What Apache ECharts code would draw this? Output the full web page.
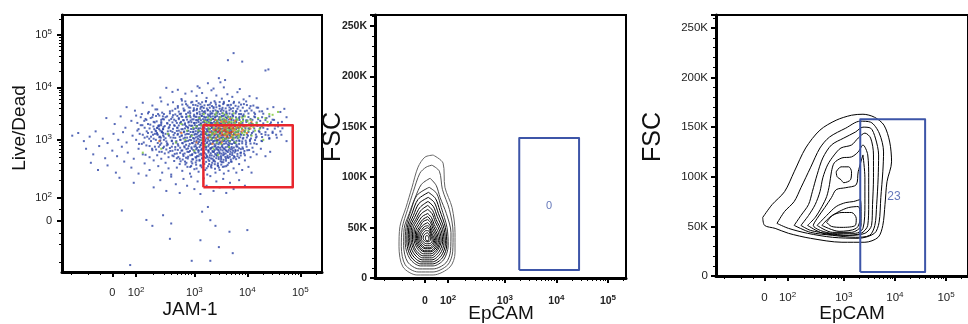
<!DOCTYPE html>
<html>
<head>
<meta charset="utf-8">
<script src="https://cdn.jsdelivr.net/npm/echarts@6/dist/echarts.min.js"></script>
<style>
  html, body { margin: 0; padding: 0; background: #fff; }
  #chart { width: 968px; height: 324px; }
</style>
</head>
<body>
<div id="chart"></div>
<script>
// biex axis ticks (raw units) and their labels
const majorTicks = [0, 100, 1000, 10000, 100000];
const majorLabels = ['{b|0}', '{b|10}{s|2}', '{b|10}{s|3}', '{b|10}{s|4}', '{b|10}{s|5}'];

// panel 1: JAM-1 vs Live/Dead dots, [JAM-1, Live/Dead]
const blueDots = [
  [5500,45000],[4300,33000],[8000,31000],[25000,22000],[22000,21000],[2900,15000],[3100,12500],[3800,13800],[1800,12000],[1150,10500],[2300,9500],
  [330,9800],[420,8200],[520,9000],[700,7600],[900,8400],[1100,6900],[1400,7800],[1700,6300],[2100,8800],[2600,7000],[3300,6100],[4200,7400],[5200,6600],[6500,8100],[8500,5900],[11000,6800],[15000,6200],[600,6000],[260,6400],[1250,9800],[3600,10000],[7200,9300],
  [60,4200],[95,3600],[130,5100],[160,3200],[190,4500],[230,3800],[270,5400],[300,3100],[350,4700],[380,3500],[430,5200],[470,3900],[520,4400],[560,3100],[610,5600],[660,3600],[720,4800],[780,3300],[850,4100],[920,5300],[980,3700],[1050,4600],[1120,3200],[1200,5000],[1300,3900],[1400,4300],[1500,3400],[1650,5500],[1800,3700],[1950,4700],[2100,3200],[2300,4200],[2500,5100],[2700,3500],[3000,4400],[3300,3800],[3600,5300],[4000,3300],[4400,4600],[4900,3900],[5500,5000],[6100,3500],[6800,4300],[7600,3100],[8600,4800],[9800,3600],[11500,4400],[13500,3300],[16000,4100],[19000,3500],[24000,3900],[31000,4200],[42000,3400],[50000,3900],
  [-25,2600],[10,2000],[35,2800],[55,1700],[80,2300],[100,2900],[120,1900],[145,2500],[170,1650],[200,2200],[220,2850],[245,1800],[270,2400],[290,1600],[320,2700],[345,2050],[370,1750],[400,2500],[430,2950],[450,1900],[480,2300],[510,1700],[540,2600],[570,2100],[600,2800],[630,1600],[660,2350],[690,1950],[720,2700],[760,1750],[800,2200],[840,2900],[880,1850],[920,2450],[960,1600],[1000,2100],[1050,2750],[1100,1800],[1150,2350],[1200,1650],[1260,2550],[1320,2000],[1380,2850],[1450,1700],[1520,2250],[1600,2650],[1680,1900],[1760,2400],[1850,1600],[1950,2900],[2050,2100],[2150,1750],[2250,2500],[2400,1900],[2500,2750],[2650,2200],[2800,1650],[2950,2450],[3100,2000],[3300,2850],[3500,1800],[3700,2300],[3900,1700],[4100,2600],[4400,2050],[4700,1600],[5000,2400],[5300,2900],[5700,1900],[6100,2250],[6500,1700],[7000,2600],[7500,2000],[8100,2800],[8800,1800],[9500,2350],[10500,1650],[11500,2500],[12500,2000],[14000,2700],[15500,1850],[17500,2300],[20000,1700],[23000,2600],[27000,2000],[32000,2400],[38000,1800],[45000,2200],[55000,2700],
  [-190,1200],[-150,1350],[-120,950],[-95,1150],[-70,1450],[-40,1050],[-20,880],[5,1300],[25,1000],[45,1400],[60,900],[85,1200],[105,1500],[125,850],[140,1100],[160,1350],[180,950],[195,1250],[215,1500],[235,880],[255,1150],[275,1400],[300,1000],[320,1300],[340,870],[365,1200],[390,1480],[410,950],[435,1100],[460,1350],[490,900],[515,1250],[540,1500],[570,1000],[600,1200],[630,870],[660,1400],[690,1100],[720,950],[750,1300],[790,1500],[830,1000],[870,1200],[910,880],[950,1400],[990,1050],[1040,1300],[1090,920],[1140,1150],[1190,1450],[1250,1000],[1310,1250],[1370,880],[1440,1350],[1510,1080],[1580,940],[1660,1280],[1740,1500],[1820,1020],[1900,1200],[2000,870],[2100,1380],[2200,1100],[2300,950],[2420,1250],[2550,1480],[2680,1000],[2800,1200],[2950,900],[3100,1350],[3250,1100],[3400,1450],[3600,950],[3800,1250],[4000,1050],[4200,1400],[4450,900],[4700,1200],[5000,1500],[5300,1000],[5600,1300],[5900,880],[6300,1150],[6700,1400],[7100,950],[7600,1250],[8200,1050],[8800,1450],[9500,900],[10300,1200],[11200,1000],[12200,1350],[13500,870],[15000,1150],[17000,1400],[19000,950],[22000,1250],[26000,1050],[30000,1350],[36000,1100],[44000,1250],[55000,950],
  [-110,700],[-80,560],[-55,780],[-30,480],[0,650],[20,520],[40,760],[65,600],[90,470],[110,700],[130,560],[150,800],[170,500],[190,660],[210,760],[230,540],[250,620],[270,470],[290,720],[310,580],[335,800],[360,500],[385,640],[410,760],[440,520],[470,680],[500,580],[530,790],[560,470],[600,650],[640,560],[680,740],[720,490],[760,620],[800,780],[850,540],[900,700],[950,460],[1000,610],[1060,770],[1120,520],[1180,660],[1250,560],[1320,800],[1400,480],[1480,700],[1560,590],[1650,760],[1750,500],[1850,640],[1960,540],[2080,720],[2200,470],[2350,620],[2500,780],[2650,530],[2800,680],[3000,580],[3200,460],[3400,740],[3650,560],[3900,660],[4200,500],[4500,800],[4800,620],[5200,700],[5600,520],[6000,640],[6500,760],[7000,490],[7600,600],[8300,700],[9000,540],[10000,660],[11500,500],[13000,620],[15000,560],[18000,700],[22000,520],[27000,620],
  [-90,400],[-60,300],[-20,360],[15,270],[50,420],[80,330],[110,260],[140,390],[170,300],[200,440],[240,350],[280,270],[320,400],[360,320],[400,250],[450,430],[500,330],[560,380],[620,290],[690,420],[760,340],[840,260],[920,390],[1000,310],[1100,440],[1200,280],[1320,360],[1450,420],[1600,300],[1750,250],[1900,380],[2100,330],[2300,430],[2500,270],[2750,360],[3000,300],[3300,410],[3600,260],[4000,350],[4400,290],[4900,420],[5500,320],[6200,270],[7000,380],[8000,300],[9000,440],[10500,340],[12000,270],
  [30,220],[90,180],[150,240],[200,150],[260,200],[330,130],[400,230],[480,170],[560,120],[650,210],[750,160],[880,230],[1000,140],[1150,190],[1300,115],[1500,215],[1700,160],[2000,235],[2300,130],[2600,190],[3000,150],[3500,210],[4000,120],[4700,180],[5500,140],[7000,200],[9000,160],
  [150,5],[190,-20],[400,-10],[290,25],[1400,40],[2000,4],[2500,-20],[4600,-45],[10000,-38],[380,-75],[1300,-81],[2900,-110],[5300,-140],[900,-190],[2000,-190],[75,-225],[40,45],[1800,60],
  [105,2100],[115,1300],[125,3100],[135,900],[140,1700],[150,2400],[155,1150],[165,3400],[170,780],[175,1950],[185,1400],[190,2700],[200,1050],[205,1600],[215,3800],[220,680],[225,2250],[235,1250],[240,1850],[250,2900],[255,950],[260,1500],[270,2050],[275,620],[280,3300],[290,1350],[295,1750],[100,1000],[110,1600],[120,2700],[130,1250],[145,550],[160,2000],[180,1150],[195,3000],[210,1300],[230,1700],[245,760],[265,1100],[285,2500],[112,850],[128,1900],[138,2300],[152,1450],[168,1050],[178,2600],[188,700],[198,1800],[208,2150],[218,1000],[228,1350],[238,3100],[248,1600],[258,820],[268,1900],[278,1450],[288,2800],[298,1150]
];
// denser body of the blue population
const coreDots = [
  [700,5400],[880,5150],[1100,5500],[1400,5200],[1650,5350],[2050,5100],[2400,5450],[3000,5250],[3600,5000],[4500,5500],[5600,5300],[7000,5150],[9500,5400],
  [620,4700],[760,4500],[950,4650],[1150,4450],[1300,4750],[1550,4550],[1800,4600],[2150,4400],[2550,4700],[2950,4500],[3500,4800],[4200,4550],[4900,4650],[6000,4450],[7600,4700],[9800,4600],[13000,4500],
  [520,4100],[650,3950],[800,4150],[980,4000],[1120,3900],[1320,4200],[1500,4050],[1720,3950],[1950,4100],[2300,4000],[2600,4180],[3000,3920],[3400,4080],[3900,3980],[4600,4150],[5400,4020],[6500,3900],[8200,4100],[11000,4000],[15000,4120],
  [420,3600],[540,3450],[680,3650],[830,3500],[960,3550],[1100,3680],[1250,3420],[1400,3580],[1580,3500],[1780,3620],[2000,3470],[2250,3560],[2500,3650],[2800,3430],[3150,3540],[3550,3600],[4000,3480],[4600,3660],[5300,3520],[6200,3450],[7400,3590],[9000,3500],[12000,3620],[17000,3480],
  [380,3200],[470,3050],[590,3150],[720,3100],[850,3230],[990,3020],[1130,3180],[1270,3080],[1420,3140],[1600,3210],[1800,3040],[2000,3120],[2200,3190],[2450,3060],[2700,3160],[3000,3100],[3350,3220],[3700,3030],[4100,3130],[4600,3170],[5200,3070],[6000,3200],[7000,3110],[8500,3050],[10500,3180],[14000,3090],[20000,3150],
  [340,2800],[420,2700],[510,2850],[620,2730],[740,2780],[860,2690],[980,2820],[1100,2750],[1230,2710],[1370,2840],[1520,2760],[1680,2700],[1850,2810],[2030,2740],[2230,2790],[2450,2680],[2680,2830],[2950,2720],[3250,2770],[3550,2850],[3900,2700],[4300,2790],[4800,2740],[5400,2810],[6100,2690],[7100,2760],[8400,2830],[10500,2720],[13500,2780],[19000,2700],[26000,2800],
  [300,2450],[370,2350],[450,2420],[540,2480],[640,2370],[750,2430],[860,2340],[970,2460],[1080,2390],[1200,2440],[1330,2360],[1460,2470],[1600,2400],[1750,2330],[1900,2450],[2070,2380],[2250,2490],[2450,2410],[2650,2350],[2880,2440],[3120,2370],[3400,2460],[3700,2400],[4050,2340],[4450,2430],[4900,2480],[5500,2360],[6200,2420],[7100,2390],[8300,2450],[10000,2340],[12500,2410],[16000,2470],[22000,2380],[30000,2420],
  [270,2180],[340,2080],[420,2150],[500,2100],[590,2200],[690,2060],[790,2140],[890,2170],[990,2090],[1090,2120],[1200,2190],[1320,2070],[1440,2160],[1570,2110],[1710,2050],[1860,2180],[2010,2130],[2180,2090],[2360,2200],[2560,2080],[2770,2150],[3000,2120],[3250,2060],[3520,2170],[3820,2100],[4150,2140],[4550,2190],[5000,2080],[5550,2130],[6200,2160],[7000,2070],[8100,2110],[9600,2180],[11800,2100],[15000,2140],[20000,2060],[28000,2150],[38000,2120],
  [250,1900],[310,1830],[380,1920],[460,1850],[540,1880],[630,1940],[720,1820],[820,1890],[920,1860],[1020,1910],[1120,1840],[1230,1930],[1350,1870],[1470,1810],[1600,1900],[1740,1860],[1880,1920],[2030,1840],[2190,1890],[2370,1950],[2560,1830],[2760,1880],[2980,1910],[3220,1850],[3480,1870],[3760,1930],[4070,1820],[4420,1900],[4820,1860],[5300,1890],[5850,1840],[6500,1920],[7300,1870],[8400,1830],[9800,1900],[11800,1860],[14500,1910],[18500,1850],[25000,1880],[34000,1870],
  [230,1680],[290,1600],[360,1660],[430,1620],[510,1700],[600,1590],[690,1650],[780,1690],[880,1610],[980,1640],[1080,1670],[1190,1580],[1300,1660],[1420,1630],[1550,1690],[1680,1600],[1820,1650],[1970,1620],[2130,1680],[2300,1590],[2480,1660],[2680,1640],[2890,1700],[3120,1610],[3370,1630],[3640,1670],[3930,1590],[4260,1650],[4630,1690],[5050,1620],[5550,1640],[6150,1600],[6900,1680],[7900,1630],[9200,1660],[11000,1610],[13500,1650],[17500,1690],[24000,1600],[33000,1640],[46000,1660],
  [220,1460],[280,1400],[350,1450],[420,1420],[500,1480],[580,1390],[670,1440],[760,1470],[860,1410],[960,1430],[1060,1460],[1170,1380],[1280,1450],[1400,1420],[1520,1490],[1650,1400],[1790,1440],[1940,1410],[2100,1470],[2270,1390],[2450,1450],[2650,1430],[2860,1480],[3090,1400],[3330,1420],[3600,1460],[3900,1390],[4230,1440],[4600,1470],[5020,1410],[5500,1430],[6100,1400],[6800,1460],[7700,1420],[8900,1450],[10500,1410],[13000,1440],[16500,1470],[22000,1400],[30000,1430],[42000,1450],
  [230,1280],[290,1220],[360,1270],[440,1240],[520,1300],[610,1210],[700,1260],[800,1290],[900,1230],[1000,1250],[1110,1280],[1220,1200],[1340,1270],[1460,1240],[1590,1300],[1730,1220],[1880,1260],[2040,1230],[2210,1290],[2390,1210],[2590,1270],[2800,1250],[3030,1300],[3280,1220],[3550,1240],[3840,1280],[4160,1210],[4520,1260],[4930,1290],[5400,1230],[5950,1250],[6600,1220],[7400,1280],[8500,1240],[9900,1270],[11800,1230],[14500,1260],[18500,1290],[25000,1220],[35000,1250],
  [250,1120],[320,1070],[390,1110],[470,1090],[560,1140],[650,1060],[750,1100],[850,1130],[950,1080],[1060,1110],[1170,1050],[1290,1120],[1410,1090],[1540,1140],[1680,1070],[1830,1100],[1990,1130],[2160,1060],[2340,1110],[2540,1090],[2750,1140],[2980,1070],[3230,1100],[3500,1120],[3790,1060],[4110,1110],[4470,1080],[4880,1130],[5350,1090],[5900,1100],[6550,1070],[7350,1120],[8400,1090],[9800,1110],[11700,1060],[14500,1100],[19000,1130],[26000,1080],
  [260,980],[330,940],[410,970],[490,950],[580,1000],[680,930],[780,960],[880,990],[990,940],[1100,970],[1220,920],[1340,980],[1470,950],[1610,1000],[1760,930],[1920,960],[2090,990],[2270,940],[2460,970],[2670,950],[2890,990],[3130,930],[3390,960],[3670,980],[3980,940],[4320,970],[4710,950],[5150,1000],[5650,930],[6250,960],[7000,980],[8000,940],[9300,970],[11200,950],[14000,990],[18500,960],
  [270,870],[350,830],[430,860],[520,840],[620,880],[720,820],[830,850],[940,875],[1050,830],[1170,860],[1300,815],[1430,870],[1570,845],[1720,880],[1880,825],[2050,850],[2230,875],[2430,835],[2640,860],[2870,840],[3110,880],[3370,820],[3650,855],[3960,870],[4300,830],[4690,860],[5130,845],[5640,880],[6250,825],[7000,850],[8000,870],[9400,835],[11500,860],[15000,845],
  [300,760],[380,720],[470,750],[570,730],[670,770],[780,710],[890,740],[1000,765],[1120,725],[1250,750],[1380,705],[1520,760],[1670,735],[1830,770],[2000,715],[2180,745],[2380,765],[2590,725],[2810,750],[3050,730],[3310,770],[3590,710],[3900,745],[4240,760],[4620,720],[5060,750],[5570,735],[6200,770],[7000,715],[8100,740],[9700,760],[12500,730],
  [330,680],[420,645],[520,670],[620,655],[730,690],[840,640],[960,665],[1080,685],[1210,650],[1350,670],[1500,635],[1660,680],[1830,660],[2010,690],[2200,640],[2410,665],[2630,685],[2870,650],[3130,675],[3410,655],[3720,690],[4060,640],[4440,665],[4870,680],[5370,645],[5950,670],[6650,655],[7550,690],[8800,640],[10800,665],
  [360,605],[460,570],[570,595],[680,580],[800,615],[920,565],[1050,590],[1190,610],[1340,575],[1500,595],[1670,560],[1850,605],[2040,585],[2250,615],[2470,570],[2710,590],[2970,610],[3250,575],[3560,600],[3900,580],[4280,615],[4700,565],[5200,590],[5780,605],[6500,570],[7400,595],[8700,580],
  [420,535],[530,505],[650,525],[780,510],[910,545],[1050,500],[1200,520],[1360,540],[1530,505],[1720,525],[1920,495],[2130,535],[2360,515],[2610,545],[2880,500],[3170,520],[3490,540],[3840,505],[4230,530],[4670,510],[5180,545],[5780,500],[6500,520],[7500,535],
  [500,480],[630,455],[770,475],[920,460],[1080,490],[1250,450],[1430,470],[1630,485],[1840,455],[2070,475],[2320,445],[2590,480],[2880,465],[3200,490],[3550,450],[3940,470],[4380,485],[4880,455],[5450,478],[6150,462],
  [580,425],[730,400],[890,420],[1060,405],[1250,435],[1450,395],[1670,415],[1910,430],[2170,400],[2460,420],[2780,390],[3130,425],[3520,410],[3960,435],[4460,398],[5050,418],
  [700,375],[880,352],[1080,370],[1300,358],[1540,382],[1810,348],[2100,366],[2430,378],[2800,354],[3220,372],[3700,345],[4250,368],
  [850,338],[1100,318],[1380,334],[1700,322],[2050,345],[2450,315],[2900,330],[3450,340]
];
const greenDots = [
  [600,2000],[750,1500],[900,1200],[1100,1800],[1250,2600],[1400,1000],[1550,1400],[1700,2200],[1850,1700],[2000,1150],[2100,2500],[2200,1350],[2350,1900],[2500,1050],[2600,1600],[2700,2300],[2850,1250],[3000,1800],[3100,2700],[3250,1450],[3400,1050],[3500,2100],[3650,1650],[3800,1300],[3950,2400],[4100,1900],[4300,1100],[4450,1550],[4600,2200],[4800,1350],[5000,1800],[5200,2600],[5400,1200],[5600,1600],[5900,2000],[6200,1450],[6500,2400],[6800,1100],[7200,1750],[7600,2200],[8000,1350],[8500,1900],[9200,1550],[10000,2300],[11000,1700],[12500,2000],[14000,1500],[16000,2600],[19000,1800],[24000,2200],[30000,3000],[38000,3400],[26000,3100],[1600,800],[2300,700],[3200,850],[4500,750],[6000,900],[1000,650],[2800,550],[480,900],[350,1300],[270,700],[130,600],[800,2800],[1500,3100],[2600,3300],[4000,3000],[5500,3200],[9000,2800],[12000,1200],[20000,1000],[700,1000],[2900,1550],[3700,2050],[4200,1250],[4900,1650],[3300,1900],[2400,1450],[5800,1350],[1900,2100],[6600,1850],[8800,1250],[10800,2050],
  [1700,1300],[1900,1550],[2150,1250],[2300,1700],[2550,1380],[2750,1950],[2950,1150],[3150,1600],[3350,2300],[3550,1280],[3750,1850],[3900,1050],[4150,1500],[4350,2050],[4550,1320],[4750,1900],[5100,1150],[5300,1450],[5700,2150],[6100,1700],[6400,1250],[6900,1550],[7400,2000],[7900,1650],[8300,2300],[9000,1400],[9600,1800],[10500,1500],[11500,2400],[13000,1750],[2000,2350],[2450,2050],[3050,2450],[3600,2550],[4400,2700],[1350,1900],[1550,2300],[1200,1500],[950,1700],[2650,900],[3450,1000],[4650,950],[5500,1050],[7000,1200],[2100,1050],[3850,1450],[5300,1950],[6300,2550],[8000,2650],[1800,2650],[2500,3000],[3500,3200],[15000,2100],[17000,1600],[22000,2600],[1450,1200],[2800,2050],[4100,1700],[6700,1450],[5000,2200]
];
const orangeDots = [
  [1400,1600],[1800,1100],[2100,1900],[2400,1300],[2700,1700],[3000,1000],[3200,2200],[3500,1500],[3800,1200],[4000,1800],[4300,1400],[4600,2000],[4900,1100],[5200,1600],[5600,1900],[6000,1250],[6500,1700],[7000,2100],[7800,1450],[8800,1800],[3300,900],[2500,2400],[4700,2500],[5900,2300],[1600,2000],[2200,850],[9800,1350],[11500,1650],[12000,2200],[3900,1650],[250,950],[600,1350],[1100,900],
  [2300,1550],[2900,1850],[3600,1750],[4100,1300],[4400,1900],[5400,1450],[6300,1900],[3100,1200],[2600,1100],[4800,1750],[5800,1550],[7300,1750],[3700,2300],[2000,1400],[8300,1550],[6800,1300],[4000,2200],[3300,1350],[5100,1250],[2700,2100]
];
const redDots = [[2800,1400],[3400,1250],[3700,1550],[4200,1150],[4500,1700],[3100,1650],[5000,1400],[2500,1550],[3900,1450],[4600,1350],[3000,1500],[5400,1700],[3500,1900]];

// gates: [min, max]
const jamGate = [1480, 72000];
const ldGate = [150, 1900];
const epGate2 = [1900, 27500];
const fscGate2 = [8, 139];
const epGate3 = [2100, 39000];
const fscGate3 = [4, 158];
const gateCounts = ['0', '23'];
const gateLabelAt = [[7200, 71], [9600, 80]];

// panel 2 contours, [EpCAM, FSC (K)], outer to inner
const p2Contours = [
  [[35,122],[78,114],[86,90],[117,70],[132,45],[132,25],[108,11],[35,3],[-35,3],[-95,11],[-112,31],[-108,51],[-82,70],[-56,90],[-30,110],[0,120]],
  [[30,112],[62,106],[75,88],[105,68],[122,45],[120,26],[98,13],[35,6],[-30,6],[-85,13],[-102,31],[-98,50],[-75,68],[-50,86],[-22,104],[5,110]],
  [[22,99],[48,92],[65,80],[92,64],[112,45],[110,27],[90,15],[35,9],[-25,9],[-75,16],[-92,32],[-90,49],[-68,64],[-42,80],[-15,93]],
  [[18,90],[50,84],[70,70],[95,50],[100,32],[80,18],[35,12],[-20,12],[-65,19],[-85,34],[-82,50],[-62,66],[-35,82]],
  [[15,85],[45,79],[64,67],[88,50],[94,33],[75,20],[33,14],[-18,14],[-60,21],[-78,35],[-76,50],[-56,64],[-30,78]],
  [[14,80],[40,75],[58,64],[82,49],[88,34],[70,22],[32,16],[-15,16],[-55,23],[-72,36],[-70,50],[-50,62],[-26,74]],
  [[13,76],[36,71],[53,61],[76,48],[82,35],[65,24],[30,18],[-12,18],[-50,25],[-66,37],[-64,50],[-45,60],[-22,70]],
  [[12,72],[33,67],[48,58],[70,47],[76,36],[60,26],[28,20],[-10,20],[-45,27],[-60,38],[-58,50],[-40,58],[-18,67]],
  [[12,68],[30,64],[44,56],[64,46],[70,37],[56,28],[27,22],[-8,22],[-40,28],[-54,38],[-52,49],[-35,57],[-15,64]],
  [[12,64],[28,60],[40,53],[58,45],[64,37],[52,29],[26,24],[-6,24],[-35,30],[-48,39],[-46,48],[-30,55],[-12,61]],
  [[12,61],[26,57],[37,51],[52,44],[58,37],[48,30],[25,26],[-4,26],[-30,31],[-42,39],[-40,47],[-26,53],[-10,58]],
  [[12,58],[24,55],[34,49],[47,43],[52,37],[44,31],[24,27],[-2,27],[-26,32],[-37,39],[-35,46],[-22,51],[-8,56]],
  [[12,55],[22,52],[31,47],[42,42],[47,37],[40,32],[22,29],[0,29],[-22,33],[-32,39],[-30,45],[-18,50],[-5,53]],
  [[12,52],[21,50],[28,45],[37,41],[42,37],[36,33],[21,30],[2,30],[-18,34],[-27,39],[-25,44],[-14,48],[-2,51]],
  [[12,50],[20,48],[26,44],[33,40],[37,37],[32,34],[20,32],[4,32],[-13,35],[-22,39],[-20,43],[-10,47],[2,49]],
  [[12,47],[19,46],[24,42],[29,39],[31,37],[27,35],[18,34],[6,34],[-8,36],[-16,39],[-14,42],[-6,45],[4,47]],
  [[11,45],[17,43],[21,41],[24,39],[22,37],[16,36],[7,36],[-2,37],[-8,39],[-6,42],[2,44]],
  [[10,42],[15,41],[17,39],[14,37],[8,37],[3,38],[2,40],[5,42]]
];

// panel 3 contours, [EpCAM, FSC (K)]
const p3Contours = [
  [[-8,59],[33,72],[87,85],[131,105],[210,129],[377,147],[733,157],[1415,162],[2372,163],[3980,160],[6110,152],[7920,135],[8600,115],[7000,95],[6400,72],[5800,51],[4700,39],[2588,34],[927,34],[255,38],[104,43],[46,48],[0,51]],
  [[54,53],[87,65],[131,75],[173,89],[255,109],[377,129],[557,140],[1094,149],[2085,156],[3350,155],[4930,144],[6000,125],[5800,105],[5300,79],[4900,54],[3980,43],[1914,38],[627,39],[227,43],[104,48]],
  [[131,51],[173,61],[236,72],[276,85],[335,102],[424,119],[603,132],[1000,139],[1682,145],[2372,150],[3350,149],[4150,139],[4800,122],[4700,99],[4400,72],[4050,51],[3207,41],[1682,39],[627,41],[255,44]],
  [[173,51],[236,61],[310,72],[377,85],[424,99],[516,112],[677,122],[891,129],[1415,132],[1914,139],[2588,144],[3350,139],[3810,122],[3810,99],[3650,72],[3493,51],[2588,43],[1245,41],[496,43],[255,46]],
  [[227,51],[310,59],[408,70],[496,80],[557,92],[603,105],[677,114],[927,119],[1415,120],[1914,125],[2372,132],[2942,122],[3070,99],[3070,72],[2942,51],[2178,43],[1094,41],[424,43]],
  [[733,105],[891,110],[1245,110],[1415,105],[1356,97],[1000,94],[891,97],[762,100]],
  [[2372,122],[1914,105],[1754,92],[1094,89],[733,87],[603,79],[459,69],[335,58],[287,51],[627,43],[1682,43],[2372,48],[2588,72],[2588,99]],
  [[335,51],[496,61],[733,70],[1094,74],[1540,75],[2085,77],[2178,65],[2178,51],[1415,44],[627,44]],
  [[408,51],[557,59],[824,65],[1245,69],[1914,70],[2085,58],[1754,48],[824,45]],
  [[496,54],[627,61],[927,64],[1415,64],[1754,58],[1682,51],[927,49],[603,50]]
];

const FONT = '"Liberation Sans", Arial, sans-serif';

// biexponential-style display transform used by the fluorescence axes
function biex(v) {
  const a = Math.abs(v), s = v < 0 ? -1 : 1;
  if (a <= 100) return 0.45 * v / 100;
  const e = Math.log10(a);
  const t = e <= 3 ? 0.45 + (e - 2) * 1.1 : 1.55 + (e - 3);
  return s * t;
}

const minorRaw = [-300, -200, -100, -50, 50];
[100, 1000, 10000, 100000].forEach(function (d) {
  for (let m = 2; m < 10; m++) minorRaw.push(m * d);
});
const majorT = majorTicks.map(biex);
const minorT = minorRaw.map(biex);

function tickLabel(val) {
  let best = 0;
  majorT.forEach(function (t, i) { if (Math.abs(t - val) < Math.abs(majorT[best] - val)) best = i; });
  return majorLabels[best];
}

function bxAxis(grid, min, max, opts) {
  const o = opts || {};
  return [{
    type: 'value', gridIndex: grid, min: min, max: max, position: o.pos,
    axisLine: { show: true, onZero: false, lineStyle: { color: '#000', width: 3 } },
    axisTick: { show: true, customValues: majorT, length: 5, lineStyle: { color: '#000', width: 2 } },
    axisLabel: {
      customValues: majorT, formatter: tickLabel, margin: o.margin || 9,
      rich: {
        b: { fontSize: o.fs || 11, fontFamily: FONT, color: '#222', fontWeight: o.fw || 'normal', lineHeight: 14 },
        s: { fontSize: 8, fontFamily: FONT, color: '#222', verticalAlign: 'top', lineHeight: 14, fontWeight: o.fw || 'normal' }
      }
    },
    splitLine: { show: false }
  }, {
    type: 'value', gridIndex: grid, min: min, max: max, position: o.pos,
    axisLine: { show: false, onZero: false },
    axisTick: { show: true, customValues: minorT, length: 3, lineStyle: { color: '#000', width: 1 } },
    axisLabel: { show: false },
    splitLine: { show: false }
  }];
}

function linYAxis(grid, max, bold, fs) {
  return {
    type: 'value', gridIndex: grid, min: 0, max: max, interval: 50,
    axisLine: { show: true, onZero: false, lineStyle: { color: '#000', width: 3 } },
    axisTick: { show: true, length: 5, lineStyle: { color: '#000', width: 2 } },
    minorTick: { show: true, splitNumber: 5, length: 3, lineStyle: { color: '#000', width: 1 } },
    axisLabel: {
      formatter: function (v) { return v ? v + 'K' : '0'; }, showMaxLabel: false,
      fontSize: fs, fontFamily: FONT, color: '#222', fontWeight: bold ? 'bold' : 'normal', margin: 8
    },
    splitLine: { show: false }
  };
}

function dotSeries(pts, color) {
  return {
    type: 'scatter', xAxisIndex: 0, yAxisIndex: 0, symbol: 'rect', symbolSize: 2,
    itemStyle: { color: color }, silent: true,
    data: pts.map(function (p) { return [biex(p[0]), biex(p[1])]; })
  };
}

function rectPath(xs, ys) {
  return [[xs[0], ys[0]], [xs[1], ys[0]], [xs[1], ys[1]], [xs[0], ys[1]], [xs[0], ys[0]]];
}

function gateSeries(xi, yi, pts, color, width) {
  return {
    type: 'line', xAxisIndex: xi, yAxisIndex: yi, symbol: 'none', silent: true,
    lineStyle: { color: color, width: width, join: 'round' }, data: pts, z: 5
  };
}

function contourSeries(xi, yi, loops, colors) {
  return loops.map(function (loop, i) {
    const d = loop.map(function (p) { return [biex(p[0]), p[1]]; });
    d.push(d[0]);
    return {
      type: 'line', xAxisIndex: xi, yAxisIndex: yi, symbol: 'none', smooth: 0.3, silent: true,
      lineStyle: { color: colors ? (colors[i] || '#000') : '#000', width: 1 }, data: d
    };
  });
}

function countLabel(xi, yi, pos, text, fs) {
  return {
    type: 'scatter', xAxisIndex: xi, yAxisIndex: yi, symbolSize: 2, itemStyle: { color: 'rgba(0,0,0,0)' }, silent: true,
    label: { show: true, position: 'inside', formatter: text, fontSize: fs, fontFamily: FONT, color: '#3d55a8' },
    data: [[biex(pos[0]), pos[1]]], z: 6
  };
}

const chart = echarts.init(document.getElementById('chart'));

const xAxes = [].concat(
  bxAxis(0, -0.95, 3.96, { pos: 'bottom', margin: 14 }),
  bxAxis(1, -0.97, 3.9, { pos: 'bottom', margin: 16, fw: 'bold', fs: 10.5 }),
  bxAxis(2, -0.95, 3.98, { pos: 'bottom', margin: 15, fs: 11.5 })
);
const yAxes = [].concat(
  bxAxis(0, -0.97, 3.93, { pos: 'left', margin: 10 }),
  [linYAxis(1, 261, true, 10.5), linYAxis(2, 263, false, 11.5)]
);

const series = [
  dotSeries(blueDots.concat(coreDots), '#2d45a6'),
  dotSeries(greenDots, '#7cc832'),
  dotSeries(orangeDots, '#f27a24'),
  dotSeries(redDots, '#e02222'),
  gateSeries(0, 0, rectPath(jamGate.map(biex), ldGate.map(biex)), '#e8262d', 2.5)
].concat(
  contourSeries(2, 2, p2Contours, ['#666', '#555', '#444', '#333']),
  [gateSeries(2, 2, rectPath(epGate2.map(biex), fscGate2), '#3d55a8', 2),
   countLabel(2, 2, gateLabelAt[0], gateCounts[0], 11)],
  contourSeries(4, 3, p3Contours),
  [gateSeries(4, 3, rectPath(epGate3.map(biex), fscGate3), '#3d55a8', 2),
   countLabel(4, 3, gateLabelAt[1], gateCounts[1], 12)]
);

function title(text, x, y, size, rot) {
  return {
    type: 'text', x: x, y: y, rotation: rot ? Math.PI / 2 : 0,
    style: { text: text, fontSize: size, fontFamily: FONT, fill: '#111', align: 'center', verticalAlign: 'middle', textAlign: 'center', textVerticalAlign: 'middle' }
  };
}

chart.setOption({
  animation: false,
  grid: [
    { left: 62, top: 15, width: 260, height: 257, show: true, borderColor: '#000', borderWidth: 2 },
    { left: 375, top: 15, width: 251, height: 263, show: true, borderColor: '#000', borderWidth: 2 },
    { left: 716, top: 15, width: 264, height: 261, show: true, borderColor: '#000', borderWidth: 2 }
  ],
  xAxis: xAxes,
  yAxis: yAxes,
  series: series,
  graphic: [
    title('JAM-1', 190, 310, 19),
    title('Live/Dead', 20, 128, 19, true),
    title('FSC', 333, 137, 25, true),
    title('EpCAM', 501, 314, 19),
    title('FSC', 653, 137, 25, true),
    title('EpCAM', 852, 314, 19)
  ]
});
</script>
</body>
</html>
